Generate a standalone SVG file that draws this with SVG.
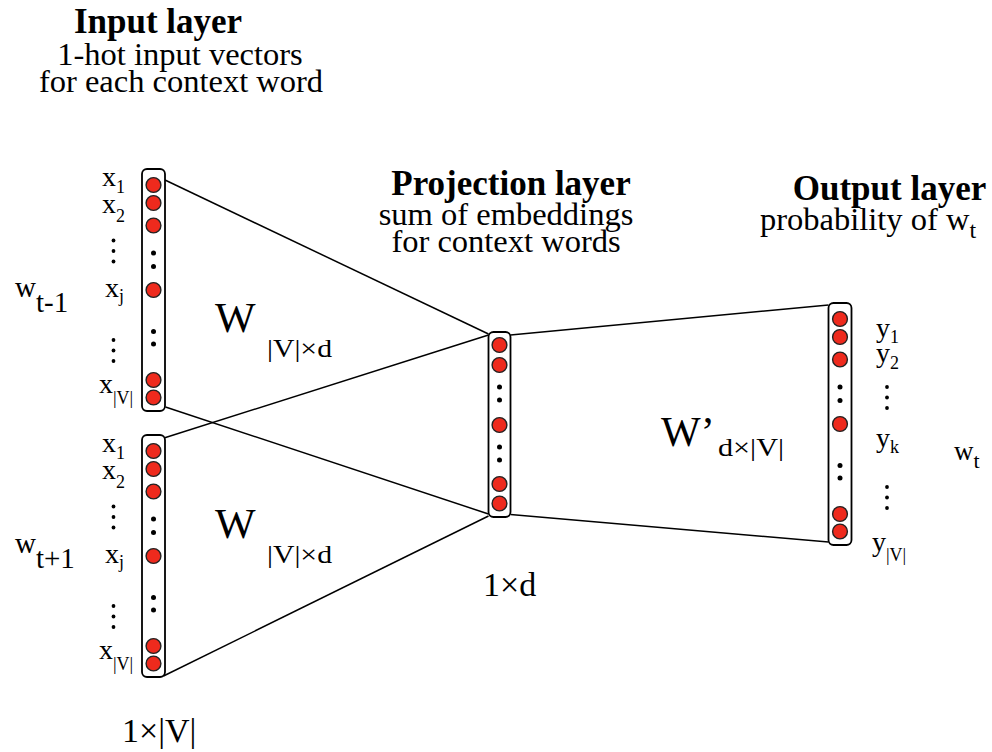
<svg xmlns="http://www.w3.org/2000/svg" width="992" height="752" viewBox="0 0 992 752" font-family="'Liberation Serif', Tinos, 'Times New Roman', Times, serif">
  <style>
    text { font-family: 'Liberation Serif', Tinos, 'Times New Roman', Times, serif; fill: #000; }
    .head { font-weight: bold; font-size: 35px; text-anchor: middle; }
    .sub { font-size: 32.5px; text-anchor: middle; }
    .lbl { font-size: 28px; }
    .lbl tspan.s { font-size: 18px; }
    .box { fill: #fff; stroke: #000; stroke-width: 1.8; }
    .unit { fill: #ee2a1d; stroke: #222; stroke-width: 1.4; }
    .dot { fill: #000; }
    .edge { stroke: #000; stroke-width: 1.5; fill: none; }
  </style>
  <defs>
    <!-- vertical ellipsis used beside the unit labels -->
    <g id="vdots">
      <circle cx="0" cy="0" r="1.9"/>
      <circle cx="0" cy="10.5" r="1.9"/>
      <circle cx="0" cy="21" r="1.9"/>
    </g>
    <!-- column of units for a |V|-sized vector -->
    <g id="vcol">
      <rect class="box" x="-11.5" y="0" width="23" height="242" rx="5"/>
      <circle class="unit" cx="0" cy="16" r="7.4"/>
      <circle class="unit" cx="0" cy="34" r="7.4"/>
      <circle class="unit" cx="0" cy="56.5" r="7.4"/>
      <circle class="dot" cx="0" cy="84" r="2.5"/>
      <circle class="dot" cx="0" cy="97.5" r="2.5"/>
      <circle class="dot" cx="0" cy="162.5" r="2.5"/>
      <circle class="dot" cx="0" cy="175" r="2.5"/>
      <circle class="unit" cx="0" cy="121" r="7.4"/>
      <circle class="unit" cx="0" cy="211" r="7.4"/>
      <circle class="unit" cx="0" cy="228.5" r="7.4"/>
    </g>
    <!-- labels x1 ... x|V| for an input column -->
    <g id="xlabels">
      <text class="lbl" x="102" y="17">x<tspan class="s" dy="7">1</tspan></text>
      <text class="lbl" x="102" y="44">x<tspan class="s" dy="9">2</tspan></text>
      <use href="#vdots" x="113.5" y="71.5"/>
      <text class="lbl" x="105" y="128">x<tspan class="s" dy="5">j</tspan></text>
      <use href="#vdots" x="113.5" y="171"/>
      <text class="lbl" x="99" y="224">x<tspan class="s" dy="11">|V|</tspan></text>
    </g>
  </defs>

  <!-- connectors -->
  <g id="connectors">
    <line class="edge" x1="165" y1="180" x2="488.5" y2="334"/>
    <line class="edge" x1="165.5" y1="407" x2="488.5" y2="514"/>
    <line class="edge" x1="164" y1="438" x2="488.5" y2="335"/>
    <line class="edge" x1="163.5" y1="676" x2="488.5" y2="516"/>
    <line class="edge" x1="510.5" y1="335" x2="828.5" y2="305"/>
    <line class="edge" x1="510.5" y1="514.5" x2="828.5" y2="542"/>
  </g>

  <!-- input layer -->
  <g id="input-header">
    <text class="head" x="158" y="33" font-size="34">Input layer</text>
    <text class="sub" x="180" y="65">1-hot input vectors</text>
    <text class="sub" x="181" y="92" font-size="32">for each context word</text>
  </g>

  <g id="input-prev">
    <use href="#vcol" x="153.5" y="169"/>
    <use href="#xlabels" x="0" y="169"/>
    <text x="15" y="297" font-size="29">w<tspan font-size="29" dy="15">t-1</tspan></text>
  </g>

  <g id="input-next">
    <use href="#vcol" x="153.5" y="435"/>
    <use href="#xlabels" x="0" y="435"/>
    <text x="15" y="553" font-size="29">w<tspan font-size="29" dy="15">t+1</tspan></text>
  </g>

  <g id="weights-prev">
    <text x="215" y="332" font-size="43">W</text>
    <text x="267" y="357" font-size="26" textLength="65" lengthAdjust="spacingAndGlyphs">|V|×d</text>
  </g>
  <g id="weights-next">
    <text x="215" y="538" font-size="43">W</text>
    <text x="267" y="563" font-size="26" textLength="65" lengthAdjust="spacingAndGlyphs">|V|×d</text>
  </g>

  <text x="122" y="742" font-size="34">1×|V|</text>

  <!-- projection layer -->
  <g id="projection">
    <text class="head" x="511" y="195" font-size="36">Projection layer</text>
    <text class="sub" x="506" y="225" font-size="33.5">sum of embeddings</text>
    <text class="sub" x="506" y="252">for context words</text>
    <rect class="box" x="488.5" y="332" width="22" height="185" rx="5"/>
    <circle class="unit" cx="499.5" cy="345" r="7.4"/>
    <circle class="unit" cx="499.5" cy="365" r="7.4"/>
    <circle class="dot" cx="499.5" cy="387" r="2.5"/>
    <circle class="dot" cx="499.5" cy="400" r="2.5"/>
    <circle class="unit" cx="499.5" cy="425" r="7.4"/>
    <circle class="dot" cx="499.5" cy="447" r="2.5"/>
    <circle class="dot" cx="499.5" cy="460" r="2.5"/>
    <circle class="unit" cx="499.5" cy="484" r="7.4"/>
    <circle class="unit" cx="499.5" cy="503.5" r="7.4"/>
    <text x="483" y="596" font-size="34">1×d</text>
  </g>

  <g id="weights-out">
    <text x="661" y="446" font-size="42">W’</text>
    <text x="718" y="456" font-size="26" textLength="66" lengthAdjust="spacingAndGlyphs">d×|V|</text>
  </g>

  <!-- output layer -->
  <g id="output">
    <text class="head" x="889.5" y="200" font-size="35.5">Output layer</text>
    <text x="760" y="230" font-size="32.5">probability of w<tspan font-size="24" dy="8">t</tspan></text>
    <use href="#vcol" x="840" y="303"/>
    <text class="lbl" x="876" y="337">y<tspan class="s" dy="6">1</tspan></text>
    <text class="lbl" x="876" y="362">y<tspan class="s" dy="7">2</tspan></text>
    <use href="#vdots" x="887" y="387"/>
    <text class="lbl" x="876" y="447">y<tspan class="s" dy="6">k</tspan></text>
    <use href="#vdots" x="887" y="487"/>
    <text class="lbl" x="872" y="551">y<tspan class="s" dy="10">|V|</tspan></text>
    <text x="954" y="460" font-size="27">w<tspan font-size="22" dy="8">t</tspan></text>
  </g>
</svg>
